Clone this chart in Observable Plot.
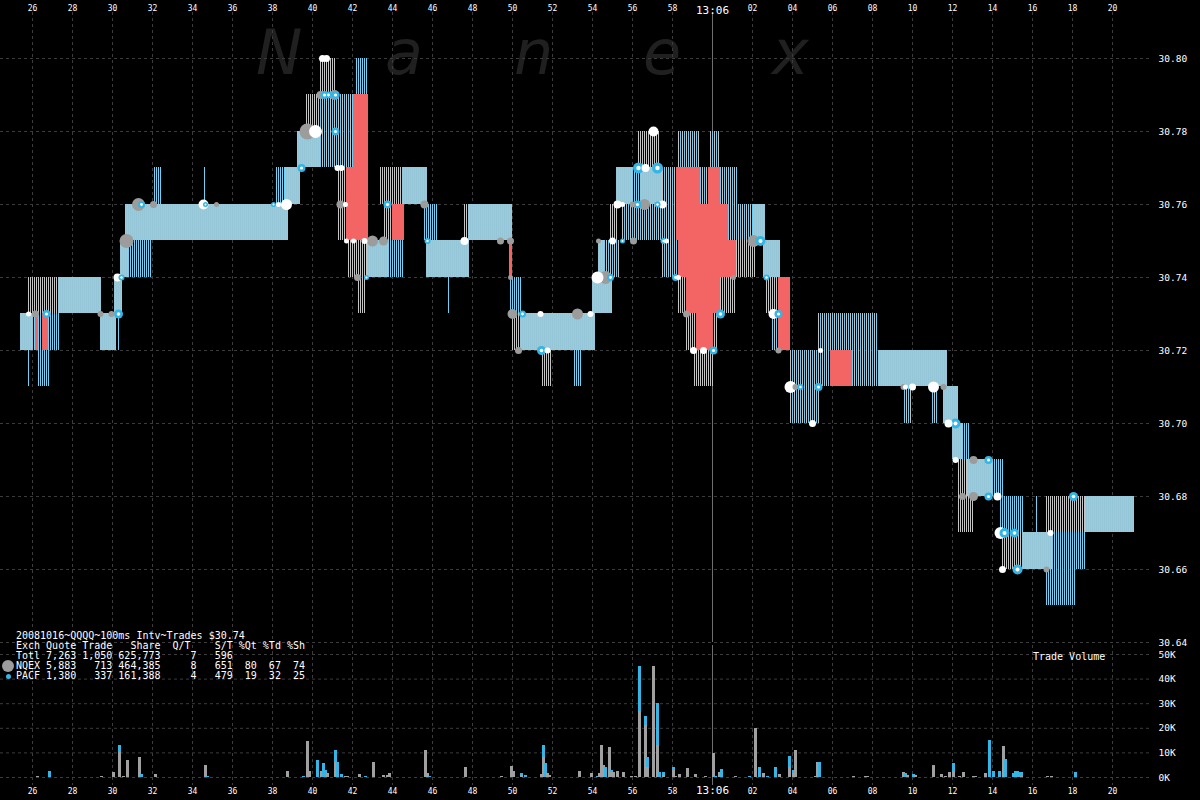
<!DOCTYPE html>
<html><head><meta charset="utf-8">
<script src="https://cdn.jsdelivr.net/npm/d3@7"></script>
<script src="https://cdn.jsdelivr.net/npm/@observablehq/plot@0.6"></script>
<style>
html,body{margin:0;padding:0;background:#000;}
#wrap{position:relative;width:1200px;height:800px;background:#000;overflow:hidden;font-family:"DejaVu Sans Mono",monospace;}
#wm{position:absolute;left:256px;top:22px;height:70px;font-family:"DejaVu Sans",sans-serif;font-style:italic;font-size:62px;line-height:62px;color:#202020;z-index:0;white-space:nowrap;}
#wm span{display:inline-block;width:129px;}
#price{position:absolute;left:0;top:0;z-index:1;}
#vol{position:absolute;left:0;top:645px;z-index:1;}
#legend{position:absolute;left:16px;top:631px;color:#fff;font-size:10px;line-height:10px;white-space:pre;z-index:2;}
#tv{position:absolute;left:1033px;top:652px;color:#fff;font-size:10px;line-height:10px;z-index:2;}
.dotL{position:absolute;border-radius:50%;z-index:2;}
</style>
</head><body>
<div id="wrap">
  <div id="wm"></div>
  <div id="price"></div>
  <div id="vol"></div>
  <div id="legend"></div>
  <div id="tv">Trade Volume</div>
  <div class="dotL" style="left:2px;top:660px;width:12px;height:12px;background:#9c9c9c;"></div>
  <div class="dotL" style="left:6px;top:674px;width:5px;height:5px;background:#33b5e5;"></div>
</div>
<script>
// ---------- axes ----------
const xTicks = [26,28,30,32,34,36,38,40,42,44,46,48,50,52,54,56,58,60,62,64,66,68,70,72,74,76,78,80];
const xTickLabels = ["26","28","30","32","34","36","38","40","42","44","46","48","50","52","54","56","58","13:06","02","04","06","08","10","12","14","16","18","20"];
const priceTicks = [30.64,30.66,30.68,30.70,30.72,30.74,30.76,30.78,30.80];
const volTicks = [0,10,20,30,40,50];
const watermark = ["N","a","n","e","x"];
const legendLines = [
  "20081016~QQQQ~100ms Intv~Trades $30.74",
  "Exch Quote Trade   Share  Q/T    S/T %Qt %Td %Sh",
  "Totl 7,263 1,050 625,773     7   596",
  "NQEX 5,883   713 464,385     8   651  80  67  74",
  "PACF 1,380   337 161,388     4   479  19  32  25"
];

// ---------- quote spread segments (seconds after 13:05:00) ----------
// kind: S solid (both exch), B PACF stripes, G NQEX stripes, M mixed stripes, R red
const segStart = [25.4,26.05,26.3,26.8,25.75,26.25,25.8,27.3,29.4,30.3,30.1,30.4,30.8,30.65,32.05,34.6,38.15,38.65,39.25,39.7,40.25,40.4,41.25,42.15,41.75,42.3,42.75,43.8,43.4,44.5,43.55,45.6,45.7,46.8,47.6,47.8,49.9,50.0,50.4,51.5,53.05,54.0,54.3,54.6,54.9,55.5,55.2,56.0,56.4,56.3,57.5,58.25,59.85,59.4,60.4,60.8,62.05,61.2,60.4,58.3,58.7,60.05,59.05,62.55,62.65,63.0,63.9,65.3,65.3,67.0,68.3,69.55,71.0,71.55,72.3,72.0,72.5,72.75,74.0,74.4,74.5,75.5,76.15,76.65,76.9,76.65,78.65,
  26.15,26.5,41.7,42.05,44.0,49.85,58.2,59.8,59.4,58.3,58.7,59.2,63.3,65.9];
const segEnd   = [26.05,26.15,26.5,27.4,25.9,26.9,27.3,29.45,30.2,30.4,30.5,30.8,32.0,38.8,32.5,34.7,38.65,39.4,40.4,40.25,42.05,41.15,41.75,42.8,42.75,42.65,43.8,44.6,44.5,45.75,44.0,46.3,47.85,46.9,47.8,50.0,50.5,50.4,54.15,51.95,53.5,55.0,54.6,55.4,55.25,58.2,56.0,56.4,57.5,57.35,58.25,59.4,60.35,59.8,61.3,62.05,62.65,62.15,61.15,58.7,59.15,60.3,60.05,63.4,63.3,63.9,65.4,68.3,65.9,68.3,71.75,70.0,71.3,72.3,73.05,72.5,72.9,74.0,74.55,75.55,75.5,77.0,76.3,78.65,78.65,78.15,81.1,
  26.3,26.8,42.05,42.8,44.6,50.0,59.4,60.4,60.8,61.2,60.4,60.05,63.9,67.0];
const segLow   = [30.72,30.72,30.72,30.72,30.71,30.71,30.73,30.73,30.72,30.72,30.73,30.74,30.74,30.75,30.76,30.76,30.76,30.76,30.77,30.78,30.77,30.79,30.75,30.79,30.74,30.73,30.74,30.74,30.76,30.76,30.75,30.75,30.74,30.73,30.75,30.75,30.73,30.72,30.72,30.71,30.71,30.73,30.74,30.74,30.75,30.75,30.76,30.76,30.76,30.77,30.74,30.77,30.77,30.76,30.76,30.75,30.75,30.74,30.73,30.73,30.72,30.72,30.71,30.74,30.73,30.72,30.70,30.72,30.71,30.71,30.71,30.70,30.70,30.70,30.67,30.69,30.69,30.68,30.68,30.67,30.66,30.66,30.67,30.67,30.66,30.65,30.67,
  30.72,30.72,30.75,30.75,30.75,30.74,30.75,30.75,30.75,30.74,30.73,30.72,30.72,30.71];
const segHigh  = [30.73,30.73,30.73,30.73,30.72,30.72,30.74,30.74,30.73,30.73,30.74,30.75,30.75,30.76,30.77,30.77,30.77,30.77,30.78,30.79,30.79,30.80,30.77,30.80,30.75,30.74,30.75,30.75,30.77,30.77,30.76,30.76,30.75,30.74,30.76,30.76,30.74,30.73,30.73,30.72,30.72,30.74,30.75,30.75,30.76,30.76,30.77,30.77,30.77,30.78,30.77,30.78,30.78,30.77,30.77,30.76,30.76,30.75,30.74,30.74,30.73,30.73,30.72,30.75,30.74,30.73,30.72,30.73,30.72,30.72,30.72,30.71,30.71,30.71,30.69,30.70,30.70,30.69,30.69,30.68,30.67,30.67,30.68,30.68,30.67,30.66,30.68,
  30.73,30.73,30.77,30.79,30.76,30.75,30.77,30.77,30.76,30.75,30.74,30.73,30.74,30.72];
const segKind  = ["S","B","B","B","B","B","G","S","S","B","S","S","B","S","B","B","B","S","S","G","M","G","G","B","G","G","S","B","G","S","G","B","S","B","G","S","B","G","S","G","B","S","S","M","G","M","S","B","S","G","M","M","M","M","M","M","S","G","G","G","G","G","G","S","G","M","M","M","M","M","S","M","M","S","G","S","B","S","B","B","G","S","B","G","B","B","S",
  "R","R","R","R","R","R","R","R","R","R","R","R","R","R"];

// ---------- trades ----------
const tradeTime  = [25.8,26.15,26.7,29.4,29.95,30.3,30.25,30.45,30.7,31.3,31.45,32.05,34.55,34.65,35.2,38.05,38.3,38.7,39.45,39.75,40.15,41.15,40.4,40.6,40.8,41.1,41.15,40.5,40.7,41.25,41.45,41.4,41.65,43.75,41.7,42.05,42.6,43.0,43.55,42.25,42.7,45.6,45.75,47.6,49.4,49.9,49.9,50.0,50.5,51.4,53.25,53.9,50.3,51.45,51.75,54.3,55.0,55.5,56.05,57.55,57.7,55.25,55.5,56.0,56.25,56.6,57.25,57.5,56.3,56.65,57.25,57.05,54.25,54.65,54.9,58.15,58.3,58.7,60.4,59.05,59.55,60.05,61.05,62.05,62.4,62.7,63.05,63.3,63.3,63.9,64.15,64.4,65.3,65.0,65.4,69.55,69.65,70.0,71.05,71.55,71.8,72.15,72.15,73.05,73.8,72.5,73.05,73.8,74.25,74.4,74.6,75.1,76.9,74.5,75.25,76.7,78.05];
const tradePrice = [30.73,30.73,30.73,30.73,30.73,30.73,30.74,30.74,30.75,30.76,30.76,30.76,30.76,30.76,30.76,30.76,30.76,30.76,30.77,30.78,30.78,30.78,30.79,30.79,30.79,30.79,30.79,30.80,30.80,30.77,30.77,30.76,30.76,30.76,30.75,30.75,30.75,30.75,30.75,30.74,30.74,30.76,30.75,30.75,30.75,30.75,30.74,30.73,30.73,30.73,30.73,30.73,30.72,30.72,30.72,30.75,30.75,30.75,30.75,30.75,30.75,30.76,30.76,30.76,30.76,30.76,30.76,30.76,30.77,30.77,30.77,30.78,30.74,30.74,30.74,30.74,30.74,30.73,30.73,30.72,30.72,30.72,30.74,30.75,30.75,30.74,30.73,30.73,30.72,30.71,30.71,30.71,30.71,30.70,30.72,30.71,30.71,30.71,30.71,30.71,30.70,30.70,30.69,30.69,30.69,30.68,30.68,30.68,30.68,30.67,30.67,30.67,30.67,30.66,30.66,30.66,30.68];
const tradeExch  = ["W","N","P","N","N","P","W","P","N","N","P","N","W","P","N","P","W","W","P","N","W","P","N","P","P","N","P","W","W","W","W","N","W","P","W","W","W","N","N","N","P","N","P","W","N","N","N","N","P","W","N","W","N","P","W","N","W","P","N","P","W","W","W","N","P","N","P","W","P","W","P","W","W","N","P","P","W","N","P","W","W","P","N","N","P","P","W","P","N","W","N","P","P","W","W","N","W","W","W","N","W","P","W","N","P","N","N","P","W","W","P","P","W","W","P","N","P"];
const tradeSize  = [2.5,3.5,4,3,3,4.5,4,3,7,6.5,3.5,3.5,5,2.5,2.5,2.5,2.5,5.5,4,8,6.5,4,4,4,3.5,5,4,3.5,3.5,3,3,4,2.5,4,2.5,2.5,3,5.5,4.5,3.5,2.5,4,3,4,3.5,3.5,2.5,5,3.5,3,5.5,3,3.5,4.5,3,2.5,3.5,2.5,3.5,3,2.5,4,2.5,3,4,5.5,3,4,5.5,4,5.5,5,6,6.5,3.5,3.5,2.5,3.5,4.5,3.5,3.5,4,2.5,6,5,3,5,4,3,6,3,3,4,3.5,2.5,3,2.5,3.5,5.5,3,4,5,3,4,4,3.5,4.5,4,4,6,5,4.5,3,3.5,5,3,4.5];

// ---------- trade volume per 100ms (thousands of shares) ----------
const volTime  = [25.9,26.2,26.8,29.4,30.0,30.3,30.5,30.7,31.3,31.4,31.6,32.1,34.6,34.7,35.2,38.1,38.3,38.7,39.5,39.7,39.8,40.2,40.4,40.5,40.6,40.7,41.1,41.2,41.4,41.6,41.7,42.3,42.6,43.0,43.5,43.7,43.8,45.6,45.7,45.8,47.6,49.4,49.9,50.0,50.4,50.6,51.4,51.5,51.6,51.7,51.8,53.3,53.9,54.2,54.3,
  54.4,54.5,54.6,54.8,54.9,55.0,55.2,55.5,55.9,56.1,56.3,56.6,56.7,57.0,57.2,57.3,57.5,58.0,58.1,58.3,58.7,59.1,59.6,60.0,60.1,60.3,60.4,61.1,61.8,62.1,62.3,62.5,62.7,63.1,63.3,63.8,64.0,64.1,65.1,65.2,65.3,67.0,67.6,67.7,69.5,69.6,69.7,70.0,70.1,71.0,71.4,71.6,71.8,72.0,72.3,72.5,73.0,73.1,73.6,73.8,74.0,74.3,74.5,74.6,75.0,75.1,75.2,75.3,75.4,76.7,76.9,77.0,78.1];
const volNQEX  = [0.2,0.3,0,0.5,2,10,0.3,7,8,0,0.2,1.3,5,0,0.2,0,0,2.5,0,14.5,2.5,0,2.5,0,0,1.7,6,0,0,0.5,0.5,1.3,0,6,1,1,1.7,11,1.7,0,4,0.5,4.5,2.5,1,0,1.3,8,0,1.7,1,2.5,1.7,0,1.7,
  13,5,0,12,2,2,2.6,2,0.5,0.5,27,21,4,45,13,0,1,3,0.5,1.3,3.7,1.3,0.5,9.6,0,2.2,0,0.3,0,20,0,1.8,0,0,1.4,4,1.5,11,0.5,6.2,0,0.5,0.5,0.5,2.2,0,1,0,1,4.6,1.3,0.5,2,2.5,0.5,2.2,0.5,0.5,1.6,0,0,0,12.5,0,0,0,0,0,0.5,0.3,0.3,0];
const volPACF  = [0,0,2.5,0,0,3,0,0,0,1.3,0,0,0,0.5,0,0.2,0.2,0,0.5,0,0,7,0,5.7,3,0,5,6,1.3,0,0,0,0.3,0,0,0,0,0,0,0.5,0,0,0,0,0.5,1,0,5,5.7,0,0,0,0,0.5,0,
  0,0,4,0,1,0,0,0,0,0,18,4,4,0,17,2,1.2,1,0,0,0,0,0,0,0.5,0,3.3,0,0.3,0,4.2,0,0.5,4,0,4.5,1.2,0,0,0,6.2,0,0,0,0,1.5,0,1.2,0,0.3,0,0,0,3,0,0,0,0,0,15,2.4,2.4,0,7.5,1.5,2.4,2.6,2,1.5,0,0,0,2.2];

// ---------- tables ----------
const ticks = xTicks.map((t, i) => ({t, label: xTickLabels[i], big: xTickLabels[i] === "13:06"}));
const segs = segStart.map((t0, i) => ({t0, t1: segEnd[i], lo: segLow[i], hi: segHigh[i], kind: segKind[i]}));
const trades = tradeTime.map((t, i) => ({t, p: tradePrice[i], ex: tradeExch[i], r: tradeSize[i]}));
const vol = [];
volTime.forEach((t, i) => {
  if (volNQEX[i] > 0) vol.push({t, ex: "NQEX", v: volNQEX[i]});
  if (volPACF[i] > 0) vol.push({t, ex: "PACF", v: volPACF[i]});
});

document.getElementById("legend").textContent = legendLines.join("\n");
document.getElementById("wm").innerHTML = watermark.map(c => `<span>${c}</span>`).join("");

const GRID = "#3c3c3c";
const FONT = "DejaVu Sans Mono, monospace";
const xDomain = [24.4, 81.9];
const segMark = (kind, fill) => Plot.rect(segs.filter(d => d.kind === kind), {
  x1: "t0", x2: "t1", y1: "lo", y2: "hi", fill, shapeRendering: "crispEdges"
});

const price = Plot.plot({
  width: 1200, height: 650,
  marginLeft: 0, marginRight: 50, marginTop: 12, marginBottom: 8,
  style: {background: "transparent", color: "#fff", fontFamily: FONT},
  x: {domain: xDomain, axis: null},
  y: {domain: [30.64, 30.8126], axis: null},
  r: {type: "identity"},
  color: {domain: ["W", "N", "P"], range: ["#ffffff", "#9c9c9c", "#33b5e5"]},
  marks: [
    Plot.ruleY(priceTicks, {stroke: GRID, strokeDasharray: "3,3"}),
    Plot.ruleX(ticks.filter(d => !d.big), {x: "t", stroke: GRID, strokeDasharray: "3,3"}),
    Plot.ruleX(ticks.filter(d => d.big), {x: "t", stroke: "#6e6e6e"}),
    segMark("G", "url(#pG)"),
    segMark("B", "url(#pB)"),
    segMark("M", "url(#pM)"),
    segMark("S", "url(#pS)"),
    segMark("R", "#f36464"),
    Plot.dot(trades, {x: "t", y: "p", r: "r", fill: "ex"}),
    Plot.dot(trades.filter(d => d.ex === "P"), {x: "t", y: "p", r: d => d.r * 0.4, fill: "#fff"}),
    Plot.text(ticks.filter(d => !d.big), {x: "t", text: "label", frameAnchor: "top", dy: -7, fill: "#fff", fontSize: 8}),
    Plot.text(ticks.filter(d => d.big), {x: "t", text: "label", frameAnchor: "top", dy: -6, fill: "#fff", fontSize: 11}),
    Plot.text(priceTicks, {y: d => d, text: d => d.toFixed(2), frameAnchor: "right", dx: 8, textAnchor: "start", fill: "#fff", fontSize: 9.5})
  ]
});

// stripe patterns (100ms columns = 1px lines)
const defs = d3.select(price).insert("defs", ":first-child");
function pattern(id, w, bg, cols) {
  const p = defs.append("pattern").attr("id", id).attr("patternUnits", "userSpaceOnUse")
    .attr("x", 0).attr("y", 0).attr("width", w).attr("height", 4);
  if (bg) p.append("rect").attr("x", 0).attr("y", 0).attr("width", w).attr("height", 4).attr("fill", bg).attr("shape-rendering", "crispEdges");
  cols.forEach(([x, c]) => p.append("rect").attr("x", x).attr("y", 0).attr("width", 1).attr("height", 4).attr("fill", c).attr("shape-rendering", "crispEdges"));
}
pattern("pS", 2, "#bfbfbf", [[0, "#94c6d8"]]);
pattern("pB", 2, null, [[0, "#72d0f2"]]);
pattern("pG", 2, null, [[0, "#c4c4c4"]]);
pattern("pM", 4, null, [[0, "#6ccdf0"], [2, "#c0c0c0"]]);
document.getElementById("price").appendChild(price);

const volume = Plot.plot({
  width: 1200, height: 155,
  marginLeft: 0, marginRight: 50, marginTop: 9, marginBottom: 23,
  style: {background: "transparent", color: "#fff", fontFamily: FONT},
  x: {domain: xDomain, axis: null},
  y: {domain: [0, 50], axis: null},
  color: {domain: ["NQEX", "PACF"], range: ["#a0a0a0", "#33b5e5"]},
  marks: [
    Plot.ruleY(volTicks, {stroke: GRID, strokeDasharray: "3,3"}),
    Plot.ruleX(ticks.filter(d => !d.big), {x: "t", stroke: GRID, strokeDasharray: "3,3", insetTop: -9, insetBottom: -8}),
    Plot.ruleX(ticks.filter(d => d.big), {x: "t", stroke: "#6e6e6e", insetTop: -9, insetBottom: -8}),
    Plot.rectY(vol, {x: "t", y: "v", fill: "ex", interval: 0.1, insetLeft: 0, insetRight: -1, shapeRendering: "crispEdges"}),
    Plot.text(volTicks, {y: d => d, text: d => d + "K", frameAnchor: "right", dx: 8, textAnchor: "start", fill: "#fff", fontSize: 9.5}),
    Plot.text(ticks.filter(d => !d.big), {x: "t", text: "label", frameAnchor: "bottom", dy: 16, fill: "#fff", fontSize: 8}),
    Plot.text(ticks.filter(d => d.big), {x: "t", text: "label", frameAnchor: "bottom", dy: 16, fill: "#fff", fontSize: 11})
  ]
});
document.getElementById("vol").appendChild(volume);
</script>
</body></html>
